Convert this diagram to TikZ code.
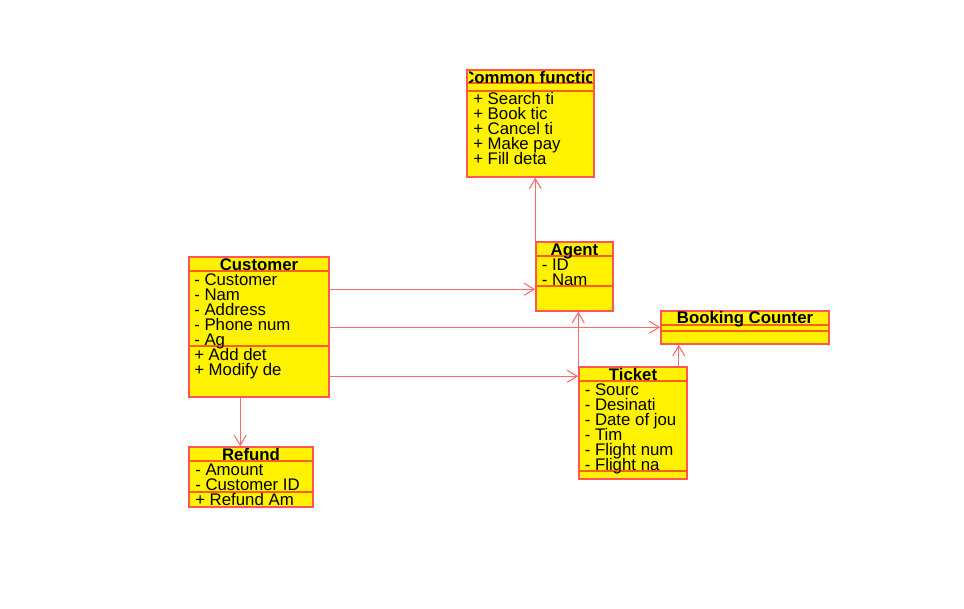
\documentclass[tikz,border=0pt]{standalone}
\usepackage{fontspec}
\setmainfont{Liberation Sans}
\usetikzlibrary{arrows.meta,calc,fit}
\definecolor{boxline}{RGB}{255,85,85}
\definecolor{partline}{RGB}{255,95,20}
\definecolor{assocline}{RGB}{255,105,105}
\newcommand{\umlfont}{\fontsize{12.6pt}{11.25pt}\selectfont}

\begin{document}
\begin{tikzpicture}[x=0.75pt,y=-0.75pt,
  classbox/.style={draw=boxline, fill=yellow, line width=1.1pt, inner sep=0pt},
  partrule/.style={draw=partline, line width=1.3pt},
  classname/.style={anchor=base, inner sep=0pt, font=\umlfont\bfseries},
  member/.style={anchor=base west, inner sep=0pt, font=\umlfont},
  assoc/.style={draw=assocline, line width=0.8pt, -{Straight Barb[length=7.5pt,width=9pt]}}]
\useasboundingbox (0,0) rectangle (964,608);
%common functions
\node[classbox, fit={(467,70) (594,177)}] (common) {};
\draw[partrule] ($(common.north west)+(0,14)$) -- ($(common.north east)+(0,14)$);
\draw[partrule] ($(common.north west)+(0,22)$) -- ($(common.north east)+(0,22)$);
\begin{scope}
\clip ($(common.north west)+(3,0)$) rectangle ($(common.south east)+(-3,0)$);
\node[member, font=\umlfont\bfseries] (commonname) at (462,83) {Common functions};
\end{scope}
\node[member] (search) at (473,104) {+ Search ti};
\node[member] (book) at (473,119) {+ Book tic};
\node[member] (cancel) at (473,134) {+ Cancel ti};
\node[member] (pay) at (473,149) {+ Make pay};
\node[member] (fill) at (473,164) {+ Fill deta};
%customer
\node[classbox, fit={(189,257) (329,397)}] (customer) {};
\draw[partrule] ($(customer.north west)+(0,15)$) -- ($(customer.north east)+(0,15)$);
\draw[partrule] ($(customer.north west)+(0,90)$) -- ($(customer.north east)+(0,90)$);
\node[classname] (customername) at (259,270) {Customer};
\node[member] (custid) at (194,285) {- Customer};
\node[member] (custname) at (194,300) {- Nam};
\node[member] (address) at (194,315) {- Address};
\node[member] (phone) at (194,330) {- Phone num};
\node[member] (age) at (194,345) {- Ag};
\node[member] (adddet) at (194,360) {+ Add det};
\node[member] (modify) at (194,375) {+ Modify de};
%agent
\node[classbox, fit={(536,242) (613,311)}] (agent) {};
\draw[partrule] ($(agent.north west)+(0,15)$) -- ($(agent.north east)+(0,15)$);
\draw[partrule] ($(agent.north west)+(0,45)$) -- ($(agent.north east)+(0,45)$);
\node[classname] (agentname) at (574.5,255.5) {Agent};
\node[member] (agentid) at (541.5,270) {- ID};
\node[member] (agentnam) at (541.5,285) {- Nam};
%booking counter
\node[classbox, fit={(661,311) (829,344)}] (counter) {};
\draw[partrule] ($(counter.north west)+(0,15)$) -- ($(counter.north east)+(0,15)$);
\draw[partrule] ($(counter.north west)+(0,21)$) -- ($(counter.north east)+(0,21)$);
\node[classname] (countername) at (745,323) {Booking Counter};
%ticket
\node[classbox, fit={(579,367) (687,479)}] (ticket) {};
\draw[partrule] ($(ticket.north west)+(0,15)$) -- ($(ticket.north east)+(0,15)$);
\draw[partrule] ($(ticket.north west)+(0,105)$) -- ($(ticket.north east)+(0,105)$);
\node[classname] (ticketname) at (633,380.5) {Ticket};
\node[member] (source) at (584.5,395) {- Sourc};
\node[member] (dest) at (584.5,410) {- Desinati};
\node[member] (date) at (584.5,425) {- Date of jou};
\node[member] (time) at (584.5,440) {- Tim};
\node[member] (flightnum) at (584.5,455) {- Flight num};
\node[member] (flightname) at (584.5,470) {- Flight na};
%refund
\node[classbox, fit={(189,447) (313,507)}] (refund) {};
\draw[partrule] ($(refund.north west)+(0,15)$) -- ($(refund.north east)+(0,15)$);
\draw[partrule] ($(refund.north west)+(0,45.5)$) -- ($(refund.north east)+(0,45.5)$);
\node[classname] (refundname) at (251,460.5) {Refund};
\node[member] (amount) at (195,475) {- Amount};
\node[member] (refcust) at (195,490) {- Customer ID};
\node[member] (refamount) at (195,505) {+ Refund Am};
%associations
\coordinate (c1) at ($(customer.north east)+(0,33)$);
\coordinate (c2) at ($(customer.north east)+(0,71)$);
\coordinate (c3) at ($(customer.north east)+(0,120)$);
\coordinate (c4) at ($(customer.south west)+(52,0)$);
\coordinate (c5) at ($(ticket.north east)+(-9,0)$);
\draw[assoc] (c1) -- (c1 -| agent.west);
\draw[assoc] (c2) -- (c2 -| counter.west);
\draw[assoc] (c3) -- (c3 -| ticket.west);
\draw[assoc] (c4) -- (c4 |- refund.north);
\draw[assoc] (agent.north west) -- (agent.north west |- common.south);
\draw[assoc] (ticket.north west) -- (ticket.north west |- agent.south);
\draw[assoc] (c5) -- (c5 |- counter.south);
\end{tikzpicture}
\end{document}
